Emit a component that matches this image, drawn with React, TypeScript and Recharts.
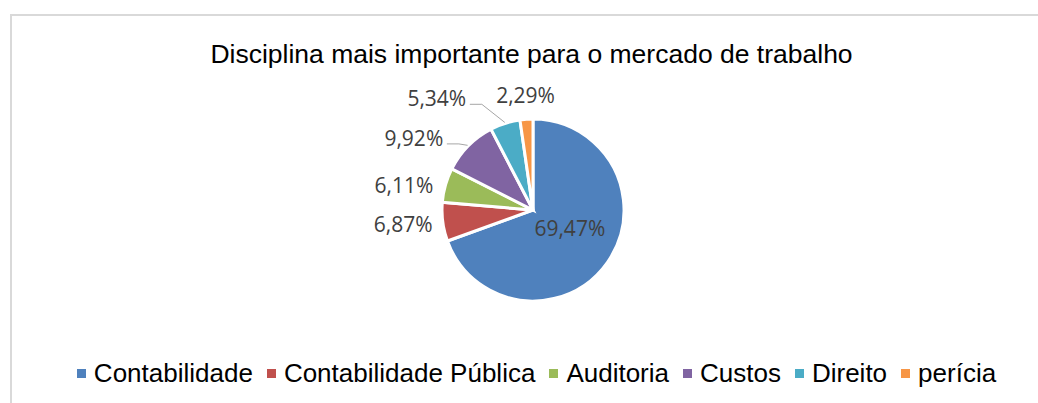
import React from "react";
import { PieChart, Pie, Cell, Legend } from "recharts";

const disciplinas = ["Contabilidade", "Contabilidade Pública", "Auditoria", "Custos", "Direito", "perícia"];
const percentuais = [69.47, 6.87, 6.11, 9.92, 5.34, 2.29];

const COLORS = ["#4F81BD", "#C0504D", "#9BBB59", "#8064A2", "#4BACC6", "#F79646"];

// label placement tweaks (Excel "best fit" style)
const LABEL_RADIUS = [45, 131, 131, 131, 131, 131];
const LABEL_NUDGE: Array<[number, number]> = [[0, -8], [0, -3], [-3, 11], [-26, 20], [-56, 13], [2, 16]];
const HAS_LEADER = [false, false, false, true, true, false];

const data = disciplinas.map((name, i) => ({ name, value: percentuais[i] }));

const RAD = Math.PI / 180;

function renderLabel(props: any) {
  const { cx, cy, midAngle, outerRadius, index, value } = props;
  const r = LABEL_RADIUS[index];
  const [nx, ny] = LABEL_NUDGE[index];
  const lx = cx + r * Math.cos(-midAngle * RAD) + nx;
  const ly = cy + r * Math.sin(-midAngle * RAD) + ny;
  const txt = value.toFixed(2).replace(".", ",") + "%";
  let leader = null;
  if (HAS_LEADER[index]) {
    const ex = cx + (outerRadius + 1) * Math.cos(-midAngle * RAD);
    const ey = cy + (outerRadius + 1) * Math.sin(-midAngle * RAD);
    const sx = lx + 33;
    const sy = ly + 6;
    leader = (
      <polyline
        points={`${sx},${sy} ${sx + 12},${sy} ${ex},${ey}`}
        fill="none"
        stroke="#A6A6A6"
        strokeWidth={1}
      />
    );
  }
  return (
    <g key={`lbl-${index}`}>
      {leader}
      <text
        x={lx}
        y={ly}
        textAnchor="middle"
        dominantBaseline="central"
        fill="#404040"
        style={{ fontFamily: "'Open Sans', sans-serif", fontSize: 21 }}
      >
        {txt}
      </text>
    </g>
  );
}

function LegendContent() {
  return (
    <div
      style={{
        display: "flex",
        justifyContent: "center",
        alignItems: "center",
        paddingLeft: 35,
        fontFamily: "'Liberation Sans', Arial, sans-serif",
        fontSize: 26,
        lineHeight: "30px",
        color: "#000",
      }}
    >
      {disciplinas.map((name, i) => (
        <div key={name} style={{ display: "flex", alignItems: "center", marginRight: i < disciplinas.length - 1 ? 14 : 0 }}>
          <span style={{ width: 9, height: 9, background: COLORS[i], marginRight: 8, display: "inline-block" }} />
          <span>{name}</span>
        </div>
      ))}
    </div>
  );
}

export default function App() {
  return (
    <div style={{ position: "absolute", left: 0, top: 0, width: 1038, height: 403, background: "#fff", overflow: "hidden" }}>
      <div
        style={{
          position: "absolute",
          left: 10,
          top: 14,
          width: 1060,
          height: 420,
          border: "2px solid #D9D9D9",
          boxSizing: "border-box",
        }}
      />
      <div
        style={{
          position: "absolute",
          left: 0,
          top: 39,
          width: 1063,
          textAlign: "center",
          fontFamily: "'Liberation Sans', Arial, sans-serif",
          fontSize: 26.5,
          lineHeight: "30px",
          color: "#000",
        }}
      >
        Disciplina mais importante para o mercado de trabalho
      </div>
      <PieChart width={1038} height={403} style={{ position: "absolute", left: 0, top: 0 }} margin={{ top: 0, right: 0, bottom: 0, left: 0 }}>
        <Pie
          data={data}
          dataKey="value"
          nameKey="name"
          cx={533}
          cy={210}
          outerRadius={91}
          startAngle={90}
          endAngle={-270}
          stroke="#fff"
          strokeWidth={3}
          label={renderLabel}
          labelLine={false}
          isAnimationActive={false}
        >
          {data.map((d, i) => (
            <Cell key={`cell-${i}`} fill={COLORS[i]} />
          ))}
        </Pie>
        <Legend
          content={<LegendContent />}
          wrapperStyle={{ position: "absolute", left: 0, top: 358, width: 1038 }}
        />
      </PieChart>
    </div>
  );
}
